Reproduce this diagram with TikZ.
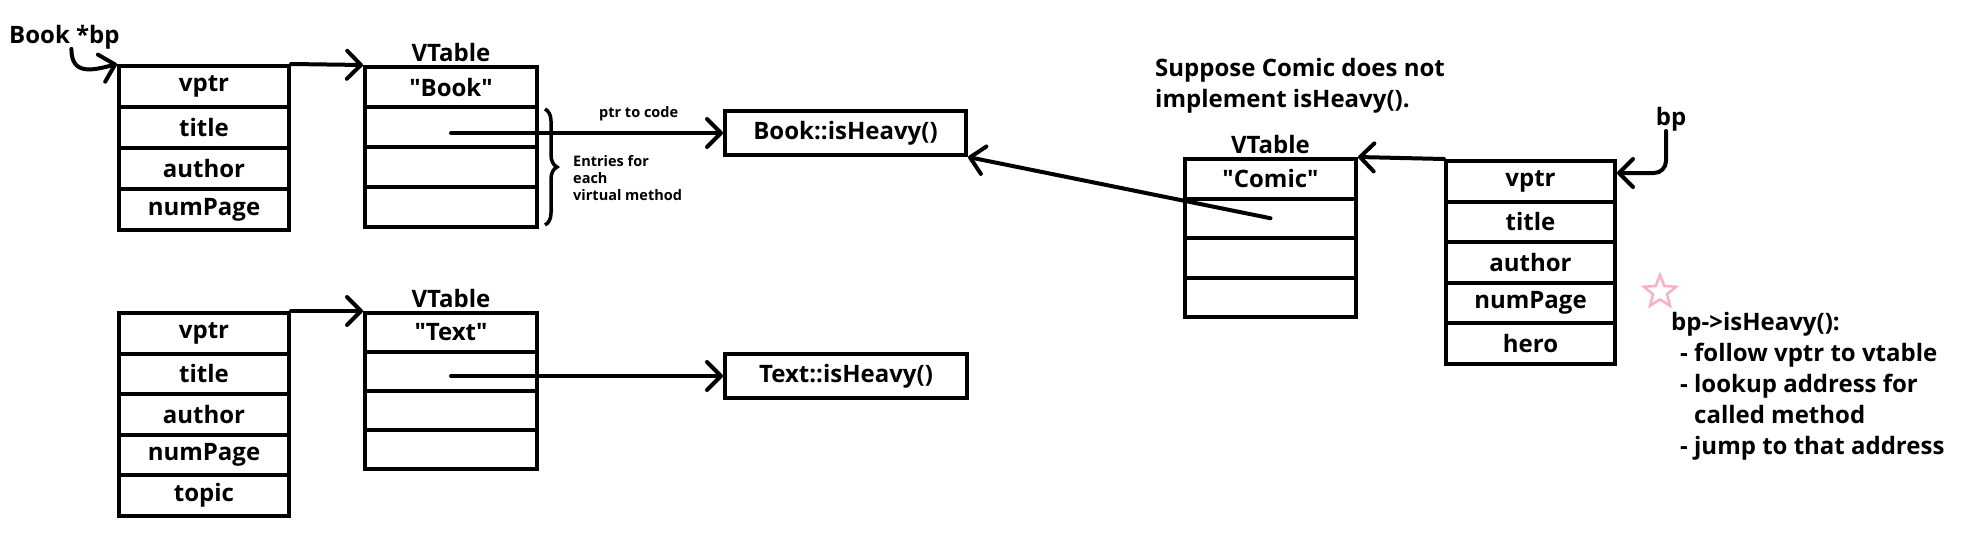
\documentclass[tikz,border=0pt]{standalone}
\usepackage{fontspec}
\setmainfont{Open Sans}
\usetikzlibrary{arrows.meta,positioning,shapes.geometric,decorations.pathreplacing}
\definecolor{starpink}{RGB}{255,174,201}
\newcommand{\bigfont}{\bfseries\fontsize{24}{31}\selectfont}
\newcommand{\smallfont}{\bfseries\fontsize{14.5}{17}\selectfont}
\newcommand{\qname}[1]{\textquotedbl#1\textquotedbl}

\begin{document}
\begin{tikzpicture}[x=1pt, y=-1pt,
        cell/.style={draw, line width=4pt, minimum width=170pt, inner sep=0pt, font=\bigfont},
        func/.style={draw, line width=4pt, minimum width=241pt, minimum height=44pt, inner sep=0pt, font=\bigfont},
        lbl/.style={font=\bigfont, inner sep=0pt},
        smalltxt/.style={font=\smallfont, inner sep=0pt},
        ptr/.style={line width=4pt, line cap=round, -{Straight Barb[length=14pt,width=28pt,round]}},
        entrybrace/.style={line width=3.5pt, decorate, decoration={brace, amplitude=12pt}}
    ]
    \useasboundingbox (0,0) rectangle (1986,536);

    % Book object and its vtable
    \node[lbl, anchor=base west] (bookbp) at (9,43) {Book *bp};
    \foreach \i/\txt in {1/vptr, 2/title, 3/author, 4/numPage} {
        \node[cell, minimum height=41pt] (bo\i) at (204,{45.5+41*\i}) {\txt};
    }
    \node[cell, minimum width=172pt, minimum height=40pt] (bv1) at (451,87) {\qname{Book}};
    \foreach \i in {2,3,4} {
        \node[cell, minimum width=172pt, minimum height=40pt] (bv\i) at (451,{47+40*\i}) {};
    }
    \node[lbl, above=3pt of bv1] (bvtitle) {VTable};
    \node[func] (bookheavy) at (845.5,133) {Book::isHeavy()};

    \draw[ptr] ([xshift=7pt]bookbp.south) to[out=-90, in=195, looseness=1.4] (bo1.north west);
    \draw[ptr] (bo1.north east) -- (bv1.north west);
    \draw[ptr] (bv2.center |- bookheavy) -- (bookheavy)
        node[smalltxt, pos=0.69, above=10pt] {ptr to code};
    \draw[entrybrace] ([xshift=6pt,yshift=-4pt]bv2.north east) -- ([xshift=6pt,yshift=4pt]bv4.south east)
        coordinate[midway] (bracetip);
    \node[smalltxt, anchor=north west, align=left] (entries) at ([xshift=28pt,yshift=12pt]bracetip)
        {Entries for\\each\\virtual method};

    % Text object and its vtable
    \foreach \i/\txt in {1/vptr, 2/title, 3/author, 4/numPage, 5/topic} {
        \node[cell, minimum height=40.6pt] (to\i) at (204,{292.7+40.6*\i}) {\txt};
    }
    \node[cell, minimum width=172pt, minimum height=39pt] (tv1) at (451,332.5) {\qname{Text}};
    \foreach \i in {2,3,4} {
        \node[cell, minimum width=172pt, minimum height=39pt] (tv\i) at (451,{293.5+39*\i}) {};
    }
    \node[lbl, above=3pt of tv1] (tvtitle) {VTable};
    \node[func, minimum width=242pt] (textheavy) at (846,376) {Text::isHeavy()};

    \draw[ptr] (to1.north east) -- (tv1.north west);
    \draw[ptr] (tv2.center |- textheavy) -- (textheavy);

    % Comic object and its vtable
    \node[lbl, anchor=north west, align=left] (suppose) at (1155,58)
        {Suppose Comic does not\\implement isHeavy().};
    \node[cell, minimum width=171pt, minimum height=39.5pt] (cv1) at (1270.5,178.75) {\qname{Comic}};
    \foreach \i in {2,3,4} {
        \node[cell, minimum width=171pt, minimum height=39.5pt] (cv\i) at (1270.5,{139.25+39.5*\i}) {};
    }
    \node[lbl, above=3pt of cv1] (cvtitle) {VTable};
    \foreach \i/\txt in {1/vptr, 2/title, 3/author, 4/numPage, 5/hero} {
        \node[cell, minimum width=169pt, minimum height=40.6pt] (co\i) at (1530.5,{140.7+40.6*\i}) {\txt};
    }
    \node[lbl, anchor=base] (bp) at (1671,125) {bp};

    \draw[ptr] (cv2.center) -- (bookheavy.south east);
    \draw[ptr] (co1.north west) -- (cv1.north east);
    \draw[ptr, rounded corners=12pt] ([xshift=-5pt]bp.south) |- ([yshift=-14pt]co1.north east);

    % Call steps
    \node[star, star points=5, star point ratio=2.3, draw=starpink, fill=white, line width=2.5pt,
        minimum size=34pt, inner sep=0pt] (mark) at (1660,292) {};
    \node[lbl, anchor=north west, align=left] (steps) at (1671,312)
        {bp->isHeavy():\\
         \hspace*{9pt}- follow vptr to vtable\\
         \hspace*{9pt}- lookup address for\\
         \hspace*{9pt}\phantom{- }called method\\
         \hspace*{9pt}- jump to that address};
\end{tikzpicture}
\end{document}
